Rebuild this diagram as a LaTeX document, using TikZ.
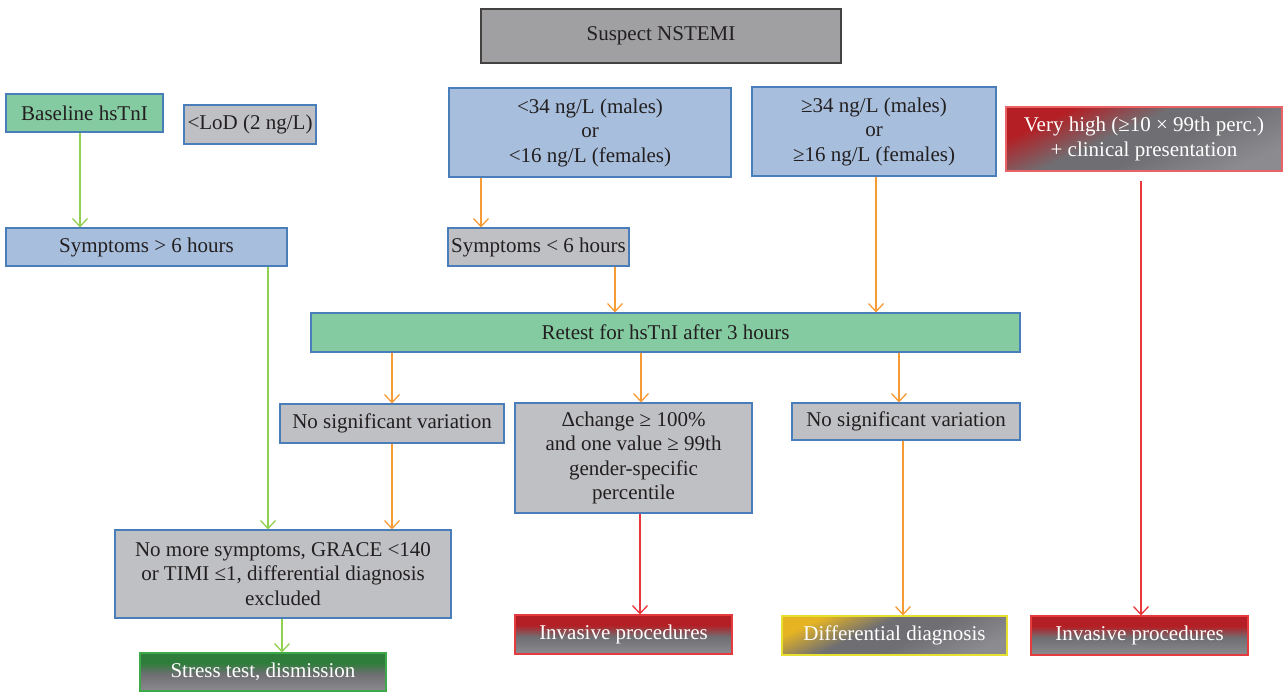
\documentclass[tikz,border=0pt]{standalone}
\usepackage{fontspec}
\setmainfont{Liberation Serif}
\usetikzlibrary{positioning,arrows.meta}
\definecolor{boxblue}{HTML}{A7BEDC}
\definecolor{boxgreen}{HTML}{84CBA1}
\definecolor{boxgray}{HTML}{BFC0C3}
\definecolor{boxdark}{HTML}{A0A0A3}
\definecolor{edgeblue}{HTML}{4A7EBB}
\definecolor{inkdark}{HTML}{231F20}
\definecolor{shadegray}{HTML}{6F6F73}
\definecolor{shadelight}{HTML}{8C8C90}
\definecolor{boxred}{HTML}{B31F24}
\definecolor{edgered}{HTML}{E53B3F}
\definecolor{boxdeepgreen}{HTML}{2E7D3A}
\definecolor{edgegreen}{HTML}{3DAA4A}
\definecolor{boxyellow}{HTML}{E6B423}
\definecolor{edgeyellow}{HTML}{E8E030}
\definecolor{arrowgreen}{HTML}{92D050}
\definecolor{arroworange}{HTML}{F79B34}
\definecolor{arrowred}{HTML}{E8383D}
\pgfdeclareverticalshading{redtop}{100bp}{color(0bp)=(shadelight); color(25bp)=(shadelight);
  color(47bp)=(shadegray); color(62bp)=(boxred); color(100bp)=(boxred)}
\pgfdeclareverticalshading{greentop}{100bp}{color(0bp)=(shadelight); color(25bp)=(shadelight);
  color(47bp)=(shadegray); color(62bp)=(boxdeepgreen); color(100bp)=(boxdeepgreen)}
\pgfdeclareverticalshading{redcorner}{100bp}{color(0bp)=(shadelight); color(25bp)=(shadelight);
  color(45bp)=(shadegray); color(56bp)=(shadegray); color(72bp)=(boxred); color(100bp)=(boxred)}
\pgfdeclareverticalshading{yellowcorner}{100bp}{color(0bp)=(shadelight); color(25bp)=(shadelight);
  color(45bp)=(shadegray); color(58bp)=(shadegray); color(74bp)=(boxyellow); color(100bp)=(boxyellow)}
\tikzset{
  box/.style={draw=edgeblue, line width=1.1pt, align=center, inner sep=2pt,
    text=inkdark, font=\fontsize{21}{24.5}\selectfont},
  bluebox/.style={box, fill=boxblue},
  greenbox/.style={box, fill=boxgreen},
  graybox/.style={box, fill=boxgray},
  redbox/.style={box, draw=edgered, text=white, shading=redtop},
  arrow/.style={-{Straight Barb[length=8pt,width=15pt]}, line width=1.3pt}
}

\begin{document}
\begin{tikzpicture}[
            x=1pt, y=-1pt,
            garrow/.style={arrow, draw=arrowgreen},
            oarrow/.style={arrow, draw=arroworange},
            rarrow/.style={arrow, draw=arrowred}
            ]
            \useasboundingbox (0,0) rectangle (1284,692);

            % Ingresso
            \node (nstemi) [box, draw=inkdark!85, fill=boxdark, minimum width=360, minimum height=54] at (661,36) {Suspect NSTEMI};
            \node (base) [greenbox, minimum width=157, minimum height=38] at (84.5,113) {Baseline hsTnI};
            \node (lod) [graybox, minimum width=132, minimum height=39] at (250,124.5) {<LoD (2 ng/L)};
            \node (low) [bluebox, minimum width=282, minimum height=89] at (590,132.5) {<34 ng/L (males)\\ or\\ <16 ng/L (females)};
            \node (high) [bluebox, minimum width=244, minimum height=89] at (874,131.5) {≥34 ng/L (males)\\ or\\ ≥16 ng/L (females)};
            \node (vhigh) [box, draw=edgered!80, text=white, shading=redcorner, shading angle=25,
              minimum width=276, minimum height=64] at (1144,139)
              {Very high (≥10 × 99th perc.)\\ + clinical presentation};

            % Tempo dei sintomi
            \node (sympgt) [bluebox, minimum width=281, minimum height=38] at (146.5,247) {Symptoms > 6 hours};
            \node (symplt) [graybox, minimum width=181, minimum height=38] at (538.5,247) {Symptoms < 6 hours};
            \node (retest) [greenbox, minimum width=709, minimum height=39] at (665.5,332.5) {Retest for hsTnI after 3 hours};

            % Esito del secondo prelievo
            \node (nsvl) [graybox, minimum width=224, minimum height=39] at (392,423.5) {No significant variation};
            \node (delta) [graybox, minimum width=237, minimum height=110] at (633.5,458) {Δchange ≥ 100\%\\ and one value ≥ 99th\\ gender-specific\\ percentile};
            \node (nsvr) [graybox, minimum width=228, minimum height=37] at (906,421.5) {No significant variation};
            \node (nomore) [graybox, minimum width=336, minimum height=88] at (283,574) {No more symptoms, GRACE <140\\ or TIMI ≤1, differential diagnosis\\ excluded};

            % Decisioni finali
            \node (stress) [box, draw=edgegreen, text=white, shading=greentop, minimum width=246, minimum height=38] at (263,672) {Stress test, dismission};
            \node (invm) [redbox, minimum width=217, minimum height=39] at (623.5,634.5) {Invasive procedures};
            \node (diff) [box, draw=edgeyellow, text=white, shading=yellowcorner, shading angle=25,
              minimum width=225, minimum height=39] at (894.5,635.5) {Differential diagnosis};
            \node (invr) [redbox, minimum width=217, minimum height=39] at (1139.5,635.5) {Invasive procedures};

            \draw[garrow] ([xshift=-4.5]base.south) -- ([xshift=-66.5]sympgt.north);
            \draw[garrow] ([xshift=121.5]sympgt.south) -- ([xshift=-15]nomore.north);
            \draw[oarrow] ([xshift=-109]low.south) -- ([xshift=-57.5]symplt.north);
            \draw[oarrow] ([xshift=76.5]symplt.south) -- ([xshift=-50.5]retest.north);
            \draw[oarrow] ([xshift=2]high.south) -- ([xshift=210.5]retest.north);
            \draw[rarrow, shorten <=9pt] ([xshift=-3]vhigh.south) -- ([xshift=1.5]invr.north);
            \draw[oarrow] ([xshift=-273.5]retest.south) -- (nsvl.north);
            \draw[oarrow] ([xshift=-24.5]retest.south) -- ([xshift=7.5]delta.north);
            \draw[oarrow] ([xshift=233.5]retest.south) -- ([xshift=-7]nsvr.north);
            \draw[oarrow] (nsvl.south) -- ([xshift=109]nomore.north);
            \draw[rarrow] ([xshift=6.5]delta.south) -- ([xshift=16.5]invm.north);
            \draw[oarrow] ([xshift=-3]nsvr.south) -- ([xshift=8.5]diff.north);
            \draw[garrow] ([xshift=-1]nomore.south) -- ([xshift=19]stress.north);

      \end{tikzpicture}
\end{document}
